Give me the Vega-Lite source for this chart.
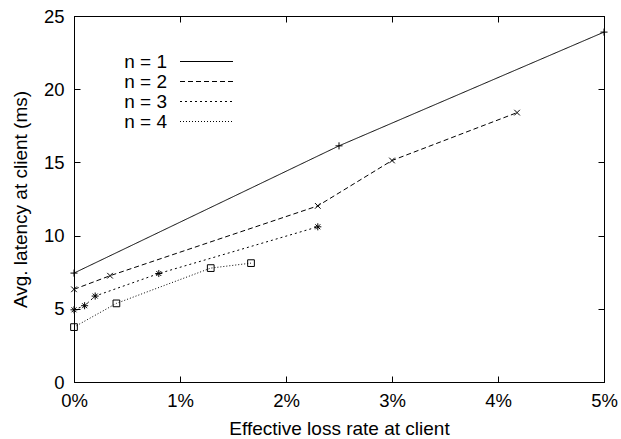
{
  "$schema": "https://vega.github.io/schema/vega-lite/v6.json",
  "width": 530,
  "height": 366,
  "autosize": "none",
  "padding": {"left": 74, "top": 16, "right": 17, "bottom": 57},
  "background": "white",
  "config": {
    "font": "Liberation Sans",
    "view": {"stroke": "black", "strokeWidth": 1},
    "axis": {
      "grid": false,
      "domainColor": "black",
      "tickColor": "black",
      "labelColor": "black",
      "titleColor": "black",
      "labelFontSize": 18.5,
      "titleFontSize": 19,
      "titleFontWeight": "normal",
      "tickSize": -6,
      "labelFlush": false
    },
    "legend": {
      "labelFontSize": 19,
      "labelColor": "black"
    }
  },
  "data": {
    "values": [
      {"series": "n = 1", "loss": 0, "latency": 7.44},
      {"series": "n = 1", "loss": 2.5, "latency": 16.13},
      {"series": "n = 1", "loss": 5.0, "latency": 23.9},
      {"series": "n = 2", "loss": 0, "latency": 6.33},
      {"series": "n = 2", "loss": 0.34, "latency": 7.26},
      {"series": "n = 2", "loss": 2.3, "latency": 12.03},
      {"series": "n = 2", "loss": 3.0, "latency": 15.13},
      {"series": "n = 2", "loss": 4.18, "latency": 18.4},
      {"series": "n = 3", "loss": 0, "latency": 4.93},
      {"series": "n = 3", "loss": 0.1, "latency": 5.21},
      {"series": "n = 3", "loss": 0.2, "latency": 5.87},
      {"series": "n = 3", "loss": 0.8, "latency": 7.41},
      {"series": "n = 3", "loss": 2.3, "latency": 10.6},
      {"series": "n = 4", "loss": 0, "latency": 3.75},
      {"series": "n = 4", "loss": 0.4, "latency": 5.37},
      {"series": "n = 4", "loss": 1.29, "latency": 7.78},
      {"series": "n = 4", "loss": 1.67, "latency": 8.12}
    ]
  },
  "encoding": {
    "x": {
      "field": "loss", "type": "quantitative",
      "scale": {"domain": [0, 5], "nice": false, "zero": false},
      "axis": null
    },
    "y": {
      "field": "latency", "type": "quantitative",
      "scale": {"domain": [0, 25], "nice": false},
      "axis": null
    }
  },
  "layer": [
    {
      "mark": {"type": "line", "color": "black", "strokeWidth": 1},
      "encoding": {
        "x": {
          "field": "loss", "type": "quantitative",
          "scale": {"domain": [0, 5], "nice": false, "zero": false},
          "axis": {
            "orient": "bottom",
            "values": [0, 1, 2, 3, 4, 5],
            "labelExpr": "datum.value + '%'",
            "title": "Effective loss rate at client",
            "labelPadding": 15,
            "titlePadding": 10
          }
        },
        "y": {
          "field": "latency", "type": "quantitative",
          "scale": {"domain": [0, 25], "nice": false},
          "axis": {
            "orient": "left",
            "values": [0, 5, 10, 15, 20, 25],
            "title": "Avg. latency at client (ms)",
            "labelPadding": 16,
            "titlePadding": 13
          }
        },
        "strokeDash": {
          "field": "series", "type": "nominal",
          "scale": {
            "domain": ["n = 1", "n = 2", "n = 3", "n = 4"],
            "range": [[1, 0], [5, 3], [2, 3], [1, 2]]
          },
          "legend": {
            "title": null,
            "orient": "none",
            "legendX": 123,
            "legendY": 36,
            "symbolType": "M-3,0L3,0",
            "symbolSize": 312,
            "symbolStrokeWidth": 1,
            "symbolStrokeColor": "black",
            "labelAlign": "right",
            "labelOffset": -49,
            "rowPadding": -1
          }
        }
      }
    },
    {
      "transform": [{"filter": "datum.series === 'n = 1'"}],
      "mark": {"type": "point", "filled": false, "color": "black", "strokeWidth": 1, "opacity": 1, "size": 50, "shape": "M-1,0L1,0M0,-1L0,1"},
      "encoding": {
        "x": {
          "field": "loss", "type": "quantitative",
          "scale": {"domain": [0, 5], "nice": false, "zero": false},
          "axis": {"orient": "top", "values": [0, 1, 2, 3, 4, 5], "labels": false, "title": null}
        },
        "y": {
          "field": "latency", "type": "quantitative",
          "scale": {"domain": [0, 25], "nice": false},
          "axis": {"orient": "right", "values": [0, 5, 10, 15, 20, 25], "labels": false, "title": null}
        }
      }
    },
    {
      "transform": [{"filter": "datum.series === 'n = 2'"}],
      "mark": {"type": "point", "filled": false, "color": "black", "strokeWidth": 1, "opacity": 1, "size": 50, "shape": "M-0.8,-0.8L0.8,0.8M-0.8,0.8L0.8,-0.8"},
      "encoding": {}
    },
    {
      "transform": [{"filter": "datum.series === 'n = 3'"}],
      "mark": {"type": "point", "filled": false, "color": "black", "strokeWidth": 1, "opacity": 1, "size": 50, "shape": "M-1,0L1,0M0,-1L0,1M-0.7,-0.7L0.7,0.7M-0.7,0.7L0.7,-0.7"},
      "encoding": {}
    },
    {
      "transform": [{"filter": "datum.series === 'n = 4'"}],
      "mark": {"type": "point", "filled": false, "color": "black", "strokeWidth": 1, "opacity": 1, "size": 45, "shape": "square"},
      "encoding": {}
    }
  ],
  "resolve": {"axis": {"x": "independent", "y": "independent"}}
}
